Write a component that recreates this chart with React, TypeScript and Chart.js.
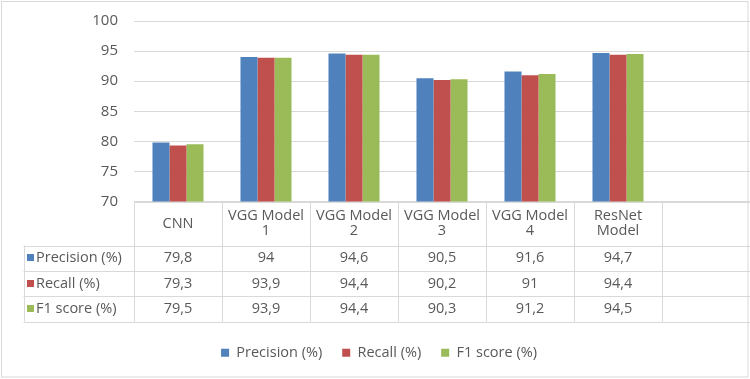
import React, { useEffect, useRef } from "react";
import { Chart, registerables } from "chart.js";

Chart.register(...registerables);

const categories: string[][] = [
  ["CNN"],
  ["VGG Model", "1"],
  ["VGG Model", "2"],
  ["VGG Model", "3"],
  ["VGG Model", "4"],
  ["ResNet", "Model"],
  [""],
];
const seriesNames = ["Precision (%)", "Recall (%)", "F1 score (%)"];
const precision = [79.8, 94, 94.6, 90.5, 91.6, 94.7];
const recall = [79.3, 93.9, 94.4, 90.2, 91, 94.4];
const f1 = [79.5, 93.9, 94.4, 90.3, 91.2, 94.5];
const seriesColors = ["#4f81bd", "#c0504d", "#9bbb59"];
const yMin = 70;
const yMax = 100;
const yStep = 5;

const FONT = "'Open Sans', 'Noto Sans', sans-serif";
const TEXT = "#595959";
const LINE = "#d9d9d9";

const fmt = (v: number | undefined) =>
  v === undefined ? "" : String(v).replace(".", ",");

const tablePlugin = {
  id: "dataTable",
  beforeDraw(chart: any) {
    const { ctx, width, height } = chart;
    ctx.save();
    ctx.fillStyle = "#ffffff";
    ctx.fillRect(0, 0, width, height);
    ctx.strokeStyle = LINE;
    ctx.lineWidth = 1;
    ctx.strokeRect(1.5, 1.5, width - 3.5, height - 3.5);
    ctx.restore();
  },
  afterDraw(chart: any) {
    const { ctx, chartArea } = chart;
    const xs = chart.scales.x;
    const n = categories.length;
    const colW = (xs.right - xs.left) / n;
    const top = chartArea.bottom;
    const headerH = 44;
    const rowH = 25.4;
    const tableLeft = 23.5;
    const right = xs.right;
    const bottom = top + headerH + rowH * 3;
    const datasets = chart.data.datasets;

    ctx.save();
    ctx.strokeStyle = LINE;
    ctx.lineWidth = 1;
    const hline = (x1: number, x2: number, y: number) => {
      const yy = Math.round(y) + 0.5;
      ctx.beginPath();
      ctx.moveTo(x1, yy);
      ctx.lineTo(x2, yy);
      ctx.stroke();
    };
    const vline = (x: number, y1: number, y2: number) => {
      const xx = Math.round(x) + 0.5;
      ctx.beginPath();
      ctx.moveTo(xx, y1);
      ctx.lineTo(xx, y2);
      ctx.stroke();
    };
    hline(chartArea.left, right, top);
    for (let r = 0; r < 4; r++) {
      hline(tableLeft, right, top + headerH + r * rowH);
    }
    for (let i = 0; i <= n; i++) {
      vline(xs.left + i * colW, top, bottom);
    }
    vline(tableLeft, top + headerH, bottom);

    ctx.fillStyle = TEXT;
    ctx.font = `14.5px ${FONT}`;
    ctx.textAlign = "center";
    ctx.textBaseline = "middle";
    categories.forEach((lines, i) => {
      const cx = xs.getPixelForValue(i);
      const lh = 15.5;
      const startY = top + headerH / 2 - ((lines.length - 1) * lh) / 2;
      lines.forEach((t, k) => ctx.fillText(t, cx, startY + k * lh));
    });
    datasets.forEach((ds: any, r: number) => {
      const cy = top + headerH + rowH * r + rowH / 2;
      ctx.textAlign = "left";
      ctx.fillStyle = ds.backgroundColor;
      ctx.fillRect(27, Math.round(cy - 4), 7, 7);
      ctx.fillStyle = TEXT;
      ctx.fillText(ds.label, 36, cy);
      ctx.textAlign = "center";
      ds.data.forEach((v: number, i: number) => {
        ctx.fillText(fmt(v), xs.getPixelForValue(i), cy);
      });
    });
    ctx.restore();
  },
};

export default function App() {
  const ref = useRef<HTMLCanvasElement | null>(null);
  useEffect(() => {
    if (!ref.current) return;
    const values = [precision, recall, f1];
    const chart = new Chart(ref.current, {
      type: "bar",
      data: {
        labels: categories.map((c) => c.join(" ")),
        datasets: seriesNames.map((name, i) => ({
          label: name,
          data: values[i],
          backgroundColor: seriesColors[i],
          borderWidth: 0,
          categoryPercentage: 0.58,
          barPercentage: 1,
        })),
      },
      options: {
        animation: false,
        responsive: false,
        devicePixelRatio: 1,
        layout: { padding: { top: 21, left: 8, right: 0, bottom: 9 } },
        plugins: {
          tooltip: { enabled: false },
          legend: {
            position: "bottom",
            labels: {
              boxWidth: 8,
              boxHeight: 8,
              padding: 20,
              color: TEXT,
              font: { family: FONT, size: 14.5 },
            },
          },
        },
        scales: {
          x: {
            ticks: { display: false },
            grid: { display: false },
            border: { display: false },
            afterFit: (s: any) => {
              s.height = 124;
            },
          },
          y: {
            min: yMin,
            max: yMax,
            ticks: {
              stepSize: yStep,
              padding: 16,
              color: TEXT,
              font: { family: FONT, size: 15 },
            },
            grid: { color: LINE, drawTicks: false },
            border: { display: false },
            afterFit: (s: any) => {
              s.width = 126;
              s.paddingTop = 0;
              s.paddingBottom = 0;
            },
          },
        },
      },
      plugins: [tablePlugin],
    });
    return () => chart.destroy();
  }, []);
  return (
    <div style={{ position: "absolute", left: 0, top: 0, width: 750, height: 379 }}>
      <canvas ref={ref} width={750} height={379} />
    </div>
  );
}
